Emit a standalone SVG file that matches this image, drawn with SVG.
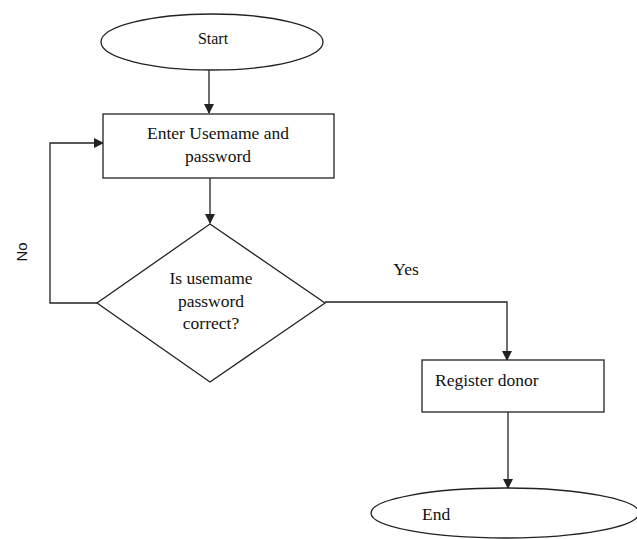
<svg xmlns="http://www.w3.org/2000/svg" width="637" height="539" viewBox="0 0 637 539">
<style>
.shape{fill:#fff;stroke:#222;stroke-width:1.3}
.line{fill:none;stroke:#222;stroke-width:1.3}
.t{font-family:"Liberation Serif","Times New Roman",serif;font-size:17.5px;fill:#111;text-anchor:middle}
.l{text-anchor:start}
.s{font-family:"Liberation Sans",Arial,sans-serif;font-size:15px;fill:#111;text-anchor:middle}
</style>
<defs>
<marker id="ah" markerWidth="10" markerHeight="10" refX="9" refY="5" orient="auto" markerUnits="userSpaceOnUse">
<path d="M0,0 L10,5 L0,10 Z" fill="#222"/>
</marker>
</defs>
<rect width="637" height="539" fill="#fff"/>
<g id="connectors">
<path class="line" d="M209,70 V113" marker-end="url(#ah)"/>
<path class="line" d="M210,165 V223" marker-end="url(#ah)"/>
<path class="line" d="M97,303 H50 V143 H103" marker-end="url(#ah)"/>
<path class="line" d="M325,302 H507 V360" marker-end="url(#ah)"/>
<path class="line" d="M508,412 V488" marker-end="url(#ah)"/>
<text class="s" transform="translate(27,252) rotate(-90)">No</text>
<text class="t" x="406" y="275">Yes</text>
</g>
<g id="start">
<ellipse class="shape" cx="212" cy="42" rx="111" ry="28"/>
<text class="t" x="213" y="44" style="font-size:16px">Start</text>
</g>
<g id="enter">
<rect class="shape" x="103" y="114" width="231" height="64"/>
<text class="t" x="218" y="139">Enter Usemame and</text>
<text class="t" x="218" y="162">password</text>
</g>
<g id="decision">
<polygon class="shape" points="210,224 325,303 210,382 97,303"/>
<text class="t" x="211" y="284">Is usemame</text>
<text class="t" x="211" y="307">password</text>
<text class="t" x="211" y="329">correct?</text>
</g>
<g id="register">
<rect class="shape" x="422" y="360" width="182" height="52"/>
<text class="t l" x="435" y="386">Register donor</text>
</g>
<g id="end">
<ellipse class="shape" cx="505" cy="513" rx="134" ry="25"/>
<text class="t l" x="422" y="520">End</text>
</g>
</svg>
